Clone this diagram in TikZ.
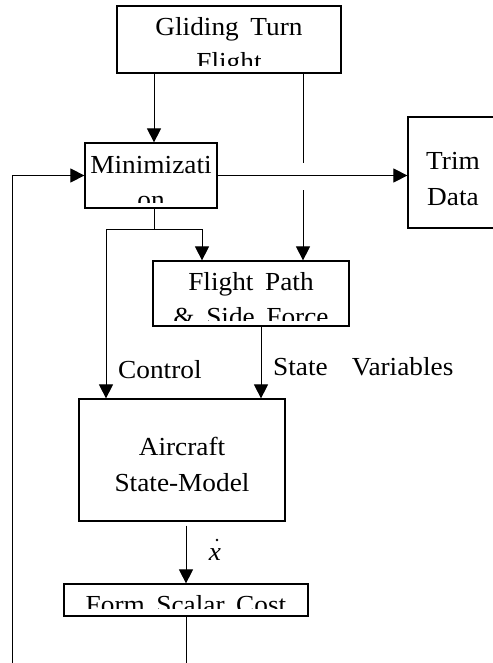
\documentclass[tikz,border=0pt]{standalone}
\usepackage{fontspec}
\setmainfont[WordSpace=1.7,FakeStretch=1.05]{Liberation Serif}
\usetikzlibrary{arrows.meta,calc}
\begin{document}
\begin{tikzpicture}[x=1pt,y=-1pt,
  box/.style={draw,line width=1.2pt,rectangle,inner sep=0pt},
  lbl/.style={anchor=base,inner sep=0pt,font=\fontsize{26}{35}\selectfont},
  conn/.style={line width=0.9pt},
  arr/.style={conn,-{Triangle[length=14pt,width=14pt]}}]
\useasboundingbox[fill=white] (0,0) rectangle (492,663);

% boxes
\node[box,minimum width=224pt,minimum height=67pt] (gliding) at (229,39.5) {};
\node[box,minimum width=132pt,minimum height=65pt] (minim) at (151,175.5) {};
\node[box,minimum width=90pt,minimum height=111pt] (trim) at (453,172.5) {};
\node[box,minimum width=196pt,minimum height=65pt] (fpath) at (251,293.5) {};
\node[box,minimum width=206pt,minimum height=122pt] (aircraft) at (182,460) {};
\node[box,minimum width=244pt,minimum height=32pt] (form) at (186,600) {};

% box texts (clipped as printed)
\begin{scope}
  \clip ([xshift=1pt,yshift=-1pt]gliding.north west) rectangle ([xshift=-1pt,yshift=8pt]gliding.south east);
  \node[lbl] (t1) at (229,36) {Gliding Turn};
  \node[lbl] (t2) at (229,71) {Flight};
\end{scope}
\begin{scope}
  \clip ([xshift=1pt,yshift=-1pt]minim.north west) rectangle ([xshift=-1pt,yshift=6pt]minim.south east);
  \node[lbl] (t3) at (151,173) {Minimizati};
  \node[lbl] (t4) at (151,208) {on};
\end{scope}
\node[lbl] (t5) at (453,170) {Trim};
\node[lbl] (t6) at (453,205) {Data};
\begin{scope}
  \clip ([xshift=1pt,yshift=-1pt]fpath.north west) rectangle ([xshift=-1pt,yshift=6pt]fpath.south east);
  \node[lbl] (t7) at (251,290) {Flight Path};
  \node[lbl] (t8) at (251,325) {\& Side Force};
\end{scope}
\node[lbl] (t9) at (182,455) {Aircraft};
\node[lbl] (t10) at (182,491) {State-Model};
\begin{scope}
  \clip ([xshift=1pt,yshift=-1pt]form.north west) rectangle ([xshift=-1pt,yshift=8pt]form.south east);
  \node[lbl] (t11) at (186,613) {Form Scalar Cost};
\end{scope}

% connector labels
\node[lbl,anchor=base west] (lc) at (118,378) {Control};
\node[lbl,anchor=base west] (ls) at (273,375) {State\hspace*{24pt}Variables};
\node[lbl] (lx) at (215,560) {\itshape x};
\fill (217,540) circle (1.4pt);

% helper coordinates
\coordinate (c1) at (154,0);
\coordinate (c2) at (303,0);
\coordinate (gapT) at (303,163);
\coordinate (gapB) at (303,190);
\coordinate (fb) at (12,663);
\coordinate (sp) at (154,229);
\coordinate (spL) at (106,229);
\coordinate (spR) at (202,229);
\coordinate (c3) at (261,0);
\coordinate (c4) at (186,0);
\coordinate (bot) at (186,663);

% connectors
\draw[arr] (gliding.south -| c1) -- (minim.north -| c1);
\draw[conn] (gliding.south -| c2) -- (gapT);
\draw[arr] (gapB) -- (fpath.north -| c2);
\draw[arr] (minim.east) -- (trim.west |- minim.east);
\draw[arr] (fb) |- (minim.west);
\draw[conn] (minim.south -| c1) -- (sp);
\draw[arr] (spL) -- (spR) -- (fpath.north -| spR);
\draw[arr] (spL) -- (aircraft.north -| spL);
\draw[arr] (fpath.south -| c3) -- (aircraft.north -| c3);
\draw[arr] ([yshift=-4pt]aircraft.south -| c4) -- (form.north -| c4);
\draw[conn] (form.south -| c4) -- (bot);
\end{tikzpicture}
\end{document}
